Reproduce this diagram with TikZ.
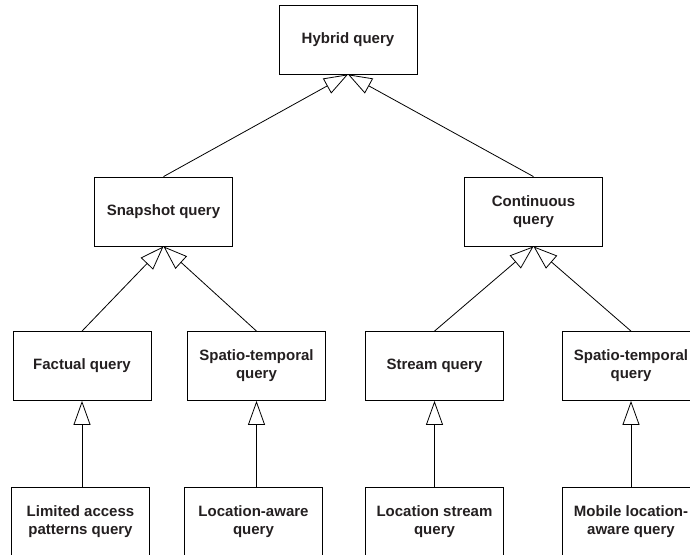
\documentclass[tikz,border=0pt]{standalone}
\usepackage{fontspec}
\setmainfont{Liberation Sans}
\usetikzlibrary{arrows.meta}
\definecolor{txtgray}{HTML}{231F20}

\begin{document}
\begin{tikzpicture}[x=1pt, y=-1pt,
    box/.style={draw, line width=0.8pt, minimum width=138pt, minimum height=69pt, align=center, text=txtgray, font=\fontsize{15}{18}\selectfont\bfseries},
    isa/.style={-{Triangle[open, length=24pt, width=17pt]}, line width=0.8pt}]
        \useasboundingbox (0,0) rectangle (690,554);
        \clip (0,0) rectangle (690,554);
        \begin{scope}
            \node[box] (hybrid) at (348,39.5) {Hybrid query};
            \node[box] (snapshot) at (163.5,211.5) {Snapshot query};
            \node[box] (continuous) at (533.5,211.5) {Continuous\\query};
        \end{scope}
        \begin{scope}
            \node[box] (factual) at (82,366) {Factual query};
            \node[box] (spatiotemp) at (256.5,366) {Spatio-temporal\\query};
            \node[box] (stream) at (434.5,366) {Stream query};
            \node[box] (mobspatiotemp) at (631,366) {Spatio-temporal\\query};
        \end{scope}
        \begin{scope}
            \node[box] (limited) at (80.5,521.5) {Limited access\\patterns query};
            \node[box] (locaware) at (253.5,521.5) {Location-aware\\query};
            \node[box] (locstream) at (434.5,521.5) {Location stream\\query};
            \node[box] (mobile) at (631,521.5) {Mobile location-\\aware query};
        \end{scope}
        \draw[isa] (snapshot.north) -- (hybrid.south);
        \draw[isa] (continuous.north) -- (hybrid.south);
        \draw[isa] (factual.north) -- (snapshot.south);
        \draw[isa] (spatiotemp.north) -- (snapshot.south);
        \draw[isa] (stream.north) -- (continuous.south);
        \draw[isa] (mobspatiotemp.north) -- (continuous.south);
        \draw[isa] (factual.south |- limited.north) -- (factual.south);
        \draw[isa] (spatiotemp.south |- locaware.north) -- (spatiotemp.south);
        \draw[isa] (locstream.north) -- (stream.south);
        \draw[isa] (mobile.north) -- (mobspatiotemp.south);
    \end{tikzpicture}
\end{document}
